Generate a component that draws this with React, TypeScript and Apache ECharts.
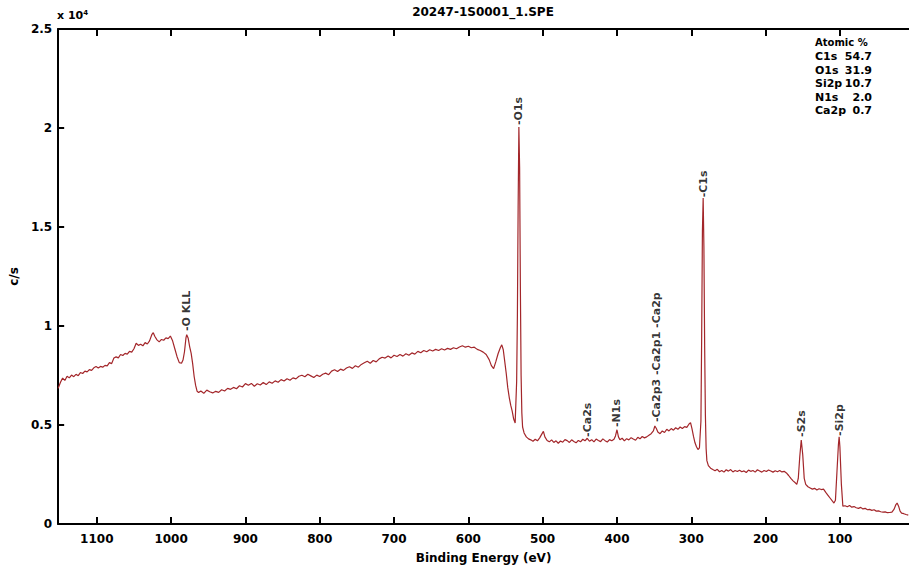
import React, { useEffect, useRef } from "react";
import * as echarts from "echarts";

// ---- data ----
const chartTitle = "20247-1S0001_1.SPE";
const xAxisName = "Binding Energy (eV)";
const yAxisName = "c/s";
const energyTicks = [100, 200, 300, 400, 500, 600, 700, 800, 900, 1000, 1100];
const countTicks = [0, 5000, 10000, 15000, 20000, 25000];

// [binding energy (eV), counts per second]
const augerRegion: [number, number][] = [
  [1152, 6850], [1149, 7150], [1146, 7370], [1143, 7250], [1140, 7460], [1137, 7380], [1134, 7520],
  [1131, 7440], [1128, 7560], [1125, 7490], [1122, 7650], [1119, 7600], [1116, 7720], [1113, 7680],
  [1110, 7800], [1107, 7760], [1104, 7890], [1101, 7950], [1098, 7880], [1095, 7960], [1092, 7920],
  [1089, 8010], [1086, 7990], [1083, 8150], [1080, 8100], [1077, 8380], [1074, 8440], [1071, 8390],
  [1068, 8560], [1065, 8510], [1062, 8620], [1059, 8580], [1056, 8720], [1053, 8680], [1050, 8850],
  [1047, 9130], [1044, 9020], [1041, 9080], [1038, 9000], [1035, 9160], [1032, 9090], [1029, 9250],
  [1026, 9560], [1024, 9660], [1022, 9480], [1019, 9300], [1016, 9200], [1013, 9320], [1010, 9280],
  [1007, 9400], [1004, 9360], [1001, 9490], [998, 9250], [995, 8850], [992, 8450], [989, 8150],
  [986, 8120], [984, 8280], [982, 8700], [980, 9400], [979, 9560], [977, 9380], [975, 8950],
  [973, 8620], [971, 8100], [969, 7450], [967, 7000], [965, 6700], [963, 6640],
];

const backgroundRegion: [number, number][] = [
  [960, 6720], [956, 6600], [952, 6760], [948, 6680], [944, 6620], [940, 6700], [936, 6650],
  [932, 6780], [928, 6720], [924, 6850], [920, 6800], [916, 6900], [912, 6830], [908, 6980],
  [904, 6920], [900, 7090], [896, 7010], [892, 7100], [888, 6960], [884, 7080], [880, 7020],
  [876, 7150], [872, 7040], [868, 7180], [864, 7110], [860, 7230], [856, 7160], [852, 7290],
  [848, 7220], [844, 7340], [840, 7260], [836, 7380], [832, 7330], [828, 7460], [824, 7510],
  [820, 7440], [816, 7560], [812, 7480], [808, 7400], [804, 7520], [800, 7450], [796, 7560],
  [792, 7620], [788, 7540], [784, 7720], [780, 7790], [776, 7700], [772, 7820], [768, 7760],
  [764, 7880], [760, 7940], [756, 7860], [752, 7990], [748, 7920], [744, 8060], [740, 8140],
  [736, 8220], [732, 8120], [728, 8260], [724, 8190], [720, 8340], [716, 8420], [712, 8380],
  [708, 8480], [704, 8390], [700, 8520], [696, 8460], [692, 8560], [688, 8480], [684, 8600],
  [680, 8520], [676, 8640], [672, 8580], [668, 8720], [664, 8650], [660, 8760], [656, 8700],
  [652, 8800], [648, 8740], [644, 8820], [640, 8760], [636, 8850], [632, 8790], [628, 8870],
  [624, 8820], [620, 8900], [616, 8850], [612, 8940], [608, 9000], [604, 8930], [600, 8980],
  [596, 8900], [592, 8930], [588, 8820], [584, 8760], [580, 8680], [576, 8560], [572, 8300],
  [569, 8000], [566, 7850], [563, 8200], [560, 8600], [557, 8900], [555, 9050], [553, 8800],
  [551, 8200], [549, 7600], [547, 6900], [545, 6400], [543, 6000], [541, 5700], [539, 5300],
];

const o1sRegion: [number, number][] = [
  [537, 5100], [535, 7200], [534, 10500], [533, 16000], [532, 20050], [531, 18000], [530, 12000],
  [529, 7500], [528, 5600], [527, 4900], [525, 4600], [522, 4400], [519, 4300],
];

const midRegion: [number, number][] = [
  [516, 4250], [513, 4180], [510, 4280], [507, 4200], [504, 4350], [501, 4550], [499, 4680],
  [497, 4400], [494, 4220], [491, 4150], [488, 4250], [485, 4120], [482, 4200], [479, 4080],
  [476, 4190], [473, 4130], [470, 4260], [467, 4210], [464, 4120], [461, 4250], [458, 4170],
  [455, 4100], [452, 4220], [449, 4150], [446, 4280], [443, 4200], [440, 4330], [437, 4180],
  [434, 4260], [431, 4150], [428, 4290], [425, 4220], [422, 4160], [419, 4300], [416, 4210],
  [413, 4140], [410, 4260], [407, 4200], [404, 4280], [402, 4450], [400, 4760], [398, 4400],
  [396, 4250], [393, 4330], [390, 4200], [387, 4310], [384, 4250], [381, 4360], [378, 4290],
  [375, 4230], [372, 4380], [369, 4300], [366, 4420], [363, 4350], [360, 4400], [357, 4480],
  [354, 4560], [351, 4700], [349, 4950], [347, 4820], [345, 4650], [342, 4560], [339, 4700],
  [336, 4620], [333, 4780], [330, 4700], [327, 4820], [324, 4740], [321, 4860], [318, 4780],
  [315, 4900], [312, 4820], [309, 4920], [306, 4880], [303, 5050], [301, 5120], [299, 4800],
  [297, 4420], [295, 4100], [293, 3900], [291, 3760], [289, 3850],
];

const c1sRegion: [number, number][] = [
  [287, 5200], [286, 9500], [285, 14800], [284, 16460], [283, 14000], [282, 9000], [281, 5500],
  [280, 3800], [279, 3200], [277, 2950], [274, 2820],
];

const lowRegion: [number, number][] = [
  [271, 2750], [268, 2690], [265, 2760], [262, 2640], [259, 2700], [256, 2620], [253, 2740],
  [250, 2670], [247, 2750], [244, 2630], [241, 2700], [238, 2650], [235, 2720], [232, 2640],
  [229, 2680], [226, 2600], [223, 2720], [220, 2660], [217, 2700], [214, 2620], [211, 2740],
  [208, 2680], [205, 2620], [202, 2700], [199, 2650], [196, 2730], [193, 2680], [190, 2620],
  [187, 2690], [184, 2640], [181, 2700], [178, 2630], [175, 2660], [172, 2580], [169, 2450],
  [166, 2300], [163, 2180], [160, 2080], [158, 2000], [156, 2300], [154, 3400], [152, 4240],
  [150, 3500], [148, 2300], [146, 2000], [143, 1880], [140, 1820], [137, 1760], [134, 1800],
  [131, 1720], [128, 1780], [125, 1740], [122, 1760], [119, 1600], [116, 1450], [113, 1300],
  [110, 1150], [108, 1060], [106, 1200], [104, 2600], [102, 4000], [101, 4400], [100, 3900],
  [98, 2000], [96, 900], [93, 920], [90, 870], [87, 930], [84, 850], [81, 880], [78, 820],
  [75, 790], [72, 840], [69, 760], [66, 790], [63, 720], [60, 740], [57, 690], [54, 720],
  [51, 650], [48, 660], [45, 620], [42, 600], [39, 610], [36, 570], [33, 580], [30, 600],
  [27, 750], [25, 950], [23, 1060], [21, 900], [19, 650], [17, 550], [14, 520], [11, 480], [8, 450],
];

// peak annotations: [energy, counts at label base, text]
const peakLabels: [number, number, string][] = [
  [979, 9750, "-O KLL"],
  [532, 20150, "-O1s"],
  [440, 4400, "-Ca2s"],
  [400, 4900, "-N1s"],
  [347, 5150, "-Ca2p3 -Ca2p1 -Ca2p"],
  [284, 16500, "-C1s"],
  [152, 4400, "-S2s"],
  [101, 4450, "-Si2p"],
];

const atomicHeader = "Atomic %";
const atomicElements = ["C1s", "O1s", "Si2p", "N1s", "Ca2p"];
const atomicPercent = [54.7, 31.9, 10.7, 2.0, 0.7];

const FONT = "'DejaVu Sans', 'Liberation Sans', Arial, sans-serif";
const LINE_COLOR = "#a3262a";

export default function App() {
  const ref = useRef<HTMLDivElement>(null);

  useEffect(() => {
    if (!ref.current) return;
    const chart = echarts.init(ref.current, null, { renderer: "svg" });
    const spectrum = [
      ...augerRegion,
      ...backgroundRegion,
      ...o1sRegion,
      ...midRegion,
      ...c1sRegion,
      ...lowRegion,
    ];

    const axisLineStyle = { color: "#000", width: 2 };
    const labelStyle = {
      color: "#000",
      fontFamily: FONT,
      fontWeight: "bold" as const,
      fontSize: 12,
    };

    const tableGraphics: any[] = [
      {
        type: "text",
        left: 815,
        top: 37,
        style: { text: atomicHeader, fill: "#000", font: `bold 10px ${FONT}` },
      },
    ];
    atomicElements.forEach((el, i) => {
      tableGraphics.push({
        type: "text",
        x: 815,
        y: 51 + i * 13.5,
        style: { text: el, fill: "#000", font: `bold 11px ${FONT}`, textVerticalAlign: "top" },
      });
      tableGraphics.push({
        type: "text",
        x: 872,
        y: 51 + i * 13.5,
        style: {
          text: atomicPercent[i].toFixed(1),
          fill: "#000",
          font: `bold 11px ${FONT}`,
          textAlign: "right",
          textVerticalAlign: "top",
        },
      });
    });

    const option: any = {
      animation: false,
      backgroundColor: "#fff",
      grid: { left: 57, right: 0, top: 29, bottom: 49, containLabel: false },
      graphic: [
        {
          type: "text",
          x: 483,
          y: 6,
          style: {
            text: chartTitle,
            fill: "#000",
            font: `bold 12px ${FONT}`,
            textAlign: "center",
            textVerticalAlign: "top",
          },
        },
        {
          type: "text",
          x: 57,
          y: 9,
          style: {
            text: "{b|x 10}{s|4}",
            rich: {
              b: { fontFamily: FONT, fontWeight: "bold", fontSize: 11, fill: "#000" },
              s: { fontFamily: FONT, fontWeight: "bold", fontSize: 7, fill: "#000", verticalAlign: "top", padding: [0, 0, 6, 0] },
            },
          },
        },
        ...tableGraphics,
      ],
      xAxis: [
        {
          type: "value",
          inverse: true,
          min: 7,
          max: 1152,
          position: "bottom",
          name: xAxisName,
          nameLocation: "middle",
          nameGap: 28,
          nameTextStyle: { ...labelStyle, fontSize: 12 },
          axisLine: { show: true, onZero: false, lineStyle: axisLineStyle },
          axisTick: { show: true, inside: true, length: 7, customValues: energyTicks, lineStyle: axisLineStyle },
          axisLabel: {
            ...labelStyle,
            margin: 9,
            customValues: energyTicks,
            formatter: (v: number) => String(v),
          },
          splitLine: { show: false },
        },
        {
          type: "value",
          inverse: true,
          min: 7,
          max: 1152,
          position: "top",
          axisLine: { show: true, onZero: false, lineStyle: axisLineStyle },
          axisTick: { show: true, inside: true, length: 7, customValues: energyTicks, lineStyle: axisLineStyle },
          axisLabel: { show: false },
          splitLine: { show: false },
        },
      ],
      yAxis: {
        type: "value",
        min: countTicks[0],
        max: countTicks[countTicks.length - 1],
        interval: 5000,
        name: yAxisName,
        nameLocation: "middle",
        nameGap: 37,
        nameTextStyle: { ...labelStyle },
        axisLine: { show: true, onZero: false, lineStyle: axisLineStyle },
        axisTick: { show: true, inside: true, length: 6, lineStyle: axisLineStyle },
        axisLabel: {
          ...labelStyle,
          margin: 6,
          formatter: (v: number) => String(v / 10000),
        },
        splitLine: { show: false },
      },
      series: [
        {
          type: "line",
          data: spectrum,
          showSymbol: false,
          symbol: "none",
          lineStyle: { color: LINE_COLOR, width: 1.2 },
          silent: true,
          z: 2,
        },
        {
          type: "scatter",
          data: peakLabels,
          symbolSize: 0,
          silent: true,
          z: 5,
          itemStyle: { color: "#000" },
          label: {
            show: true,
            formatter: (p: any) => p.data[2],
            position: "top",
            distance: 0,
            rotate: 90,
            align: "left",
            verticalAlign: "middle",
            color: "#000",
            textBorderWidth: 0,
            textBorderColor: "transparent",
            fontFamily: FONT,
            fontWeight: "bold",
            fontSize: 11,
          },
        },
      ],
    };

    chart.setOption(option);
    return () => chart.dispose();
  }, []);

  return (
    <div
      ref={ref}
      style={{ position: "fixed", left: 0, top: 0, width: 909, height: 573, background: "#fff" }}
    />
  );
}
